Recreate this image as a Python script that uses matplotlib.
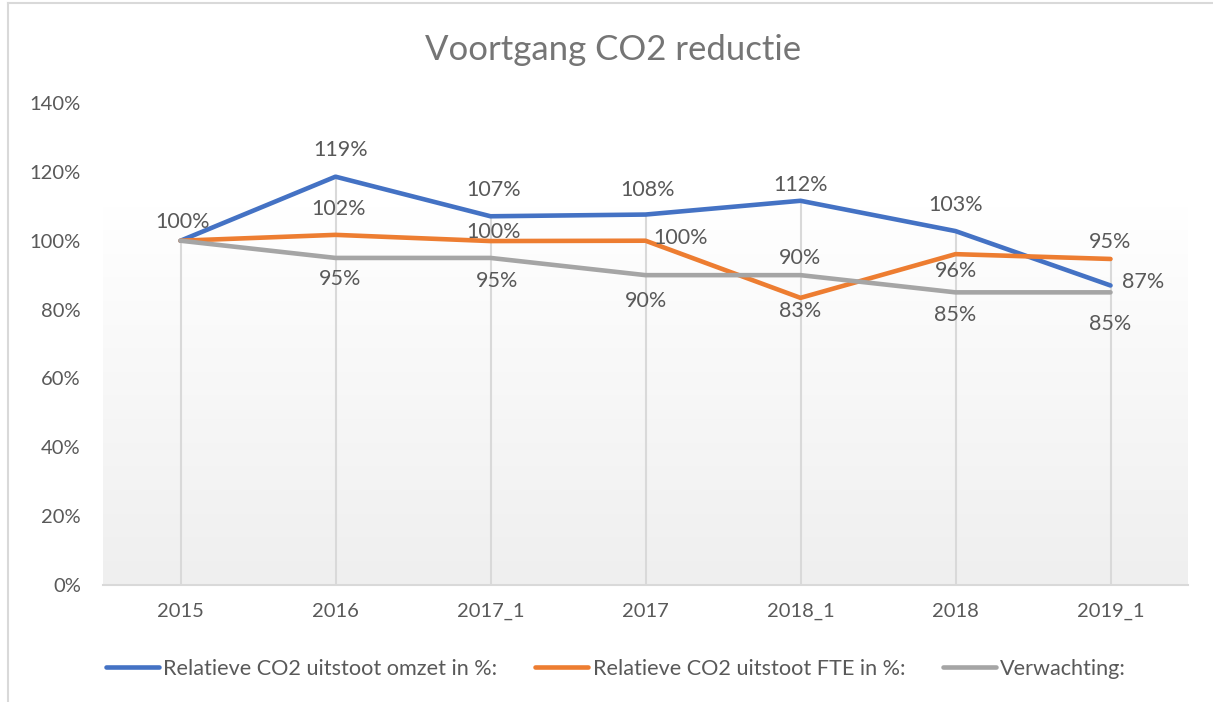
import numpy as np
import matplotlib.pyplot as plt
from matplotlib.lines import Line2D
from matplotlib.colors import LinearSegmentedColormap

plt.rcParams['font.family'] = ['Lato', 'DejaVu Sans']

# data
categories = ['2015', '2016', '2017_1', '2017', '2018_1', '2018', '2019_1']
omzet = [100, 118.6, 107.1, 107.6, 111.6, 102.8, 87.0]
fte = [100, 101.7, 99.9, 100.0, 83.4, 96.1, 94.7]
verwachting = [100, 95, 95, 90, 90, 85, 85]
series_names = ['Relatieve CO2 uitstoot omzet in %:', 'Relatieve CO2 uitstoot FTE in %:', 'Verwachting:']

# label offsets in pixels (dx, dy), None = no label
off_omzet = [(2, 19), (5, 27), (3, 26), (2, 25), (0, 16), (0, 26), (33, 3)]
off_fte = [None, (3, 26), (3, 9), (35, 3), (0, -13), (0, -17), (0, 17)]
off_verw = [None, (5, -21), (7, -23), (0, -26), (0, 17), (0, -23), (0, -32)]

txt = '#595959'
colors = ['#4472C4', '#ED7D31', '#A5A5A5']

W, H = 1213, 702
fig = plt.figure(figsize=(W / 100, H / 100), dpi=100)
ax = fig.add_axes([103 / W, 1 - 585 / H, (1188 - 103) / W, (585 - 103) / H])

x = np.arange(len(categories))

# gradient plot area
grad = np.linspace(1.0, 0.0, 256).reshape(-1, 1)
cm = LinearSegmentedColormap.from_list('g', ['#efefef', '#ffffff'])
ax.imshow(grad, cmap=cm, aspect='auto', extent=(-0.5, 6.5, 0, 110), zorder=0)

# drop lines
tops = np.max([omzet, fte, verwachting], axis=0)
ax.vlines(x, 0, tops, color='#d9d9d9', lw=1.5, zorder=1)

lines = []
for vals, c, name, offs in zip([omzet, fte, verwachting], colors, series_names,
                               [off_omzet, off_fte, off_verw]):
    l, = ax.plot(x, vals, color=c, lw=3.3, solid_capstyle='round', solid_joinstyle='round',
                 label=name, zorder=3)
    lines.append(l)
    for xi, v, o in zip(x, vals, offs):
        if o is None:
            continue
        ax.annotate('%d%%' % round(v), (xi, v), xytext=o, textcoords='offset pixels',
                    ha='center', va='center', fontsize=15.5, color=txt, zorder=4)

ax.set_xlim(-0.5, 6.5)
ax.set_ylim(0, 140)
ax.set_yticks(range(0, 141, 20))
ax.set_yticklabels(['%d%%' % v for v in range(0, 141, 20)])
ax.set_xticks(x)
ax.set_xticklabels(categories)
ax.tick_params(length=0, labelsize=14.5, labelcolor=txt)
ax.tick_params(axis='y', pad=16)
ax.tick_params(axis='x', pad=13)
for s in ['top', 'right', 'left']:
    ax.spines[s].set_visible(False)
ax.spines['bottom'].set_color('#d9d9d9')
ax.spines['bottom'].set_linewidth(1.5)
ax.set_facecolor('white')

fig.text(613 / W, 1 - 50 / H, 'Voortgang CO2 reductie', ha='center', va='center',
         fontsize=25, color='#757575')

fig.legend(handles=lines, loc='center', bbox_to_anchor=(616 / W, 1 - 669 / H), ncol=3,
           frameon=False, fontsize=15.6, labelcolor=txt, handlelength=2.45,
           handletextpad=0.2, columnspacing=1.75)

# chart border
fig.add_artist(Line2D([8 / W, 8 / W], [0, 1 - 3 / H], color='#d9d9d9', lw=1.5))
fig.add_artist(Line2D([8 / W, 1], [1 - 3 / H, 1 - 3 / H], color='#d9d9d9', lw=1.5))

fig.savefig('out.png', dpi=100)
